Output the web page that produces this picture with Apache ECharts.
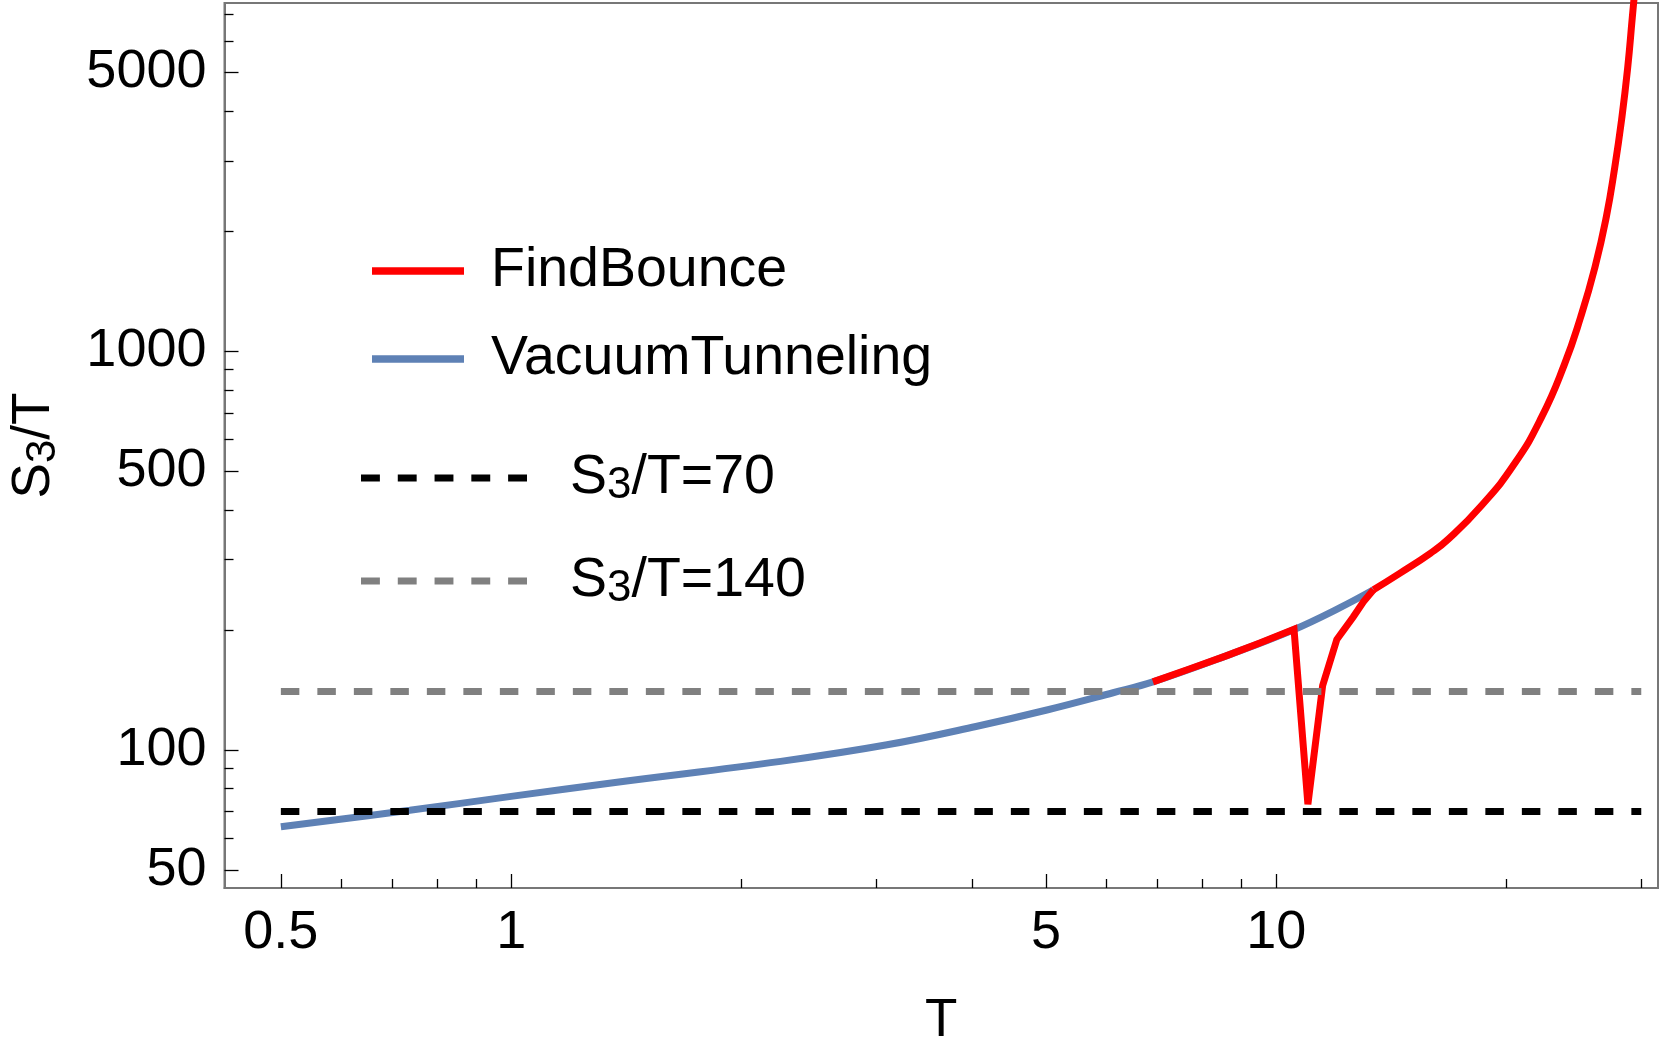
<!DOCTYPE html>
<html>
<head>
<meta charset="utf-8">
<script src="https://cdn.jsdelivr.net/npm/echarts@6/dist/echarts.min.js"></script>
<style>
html,body{margin:0;padding:0;background:#fff;}
#chart{width:1661px;height:1053px;}
</style>
</head>
<body>
<div id="chart"></div>
<script>
// ---- data ----
var blueT = [0.5, 0.737, 1.0, 1.375, 2.25, 3.1, 4.05, 5.03, 6.12, 6.9, 8.6, 10.5, 12.1, 13.4];
var blueS = [64.1, 70.5, 76.4, 82.9, 93.5, 102.9, 114.4, 126, 139, 148, 172, 199.5, 227, 252];

var redT = [6.9, 7.7, 8.6, 9.5, 10.55, 11.0, 11.5, 12.0, 12.6, 13.0, 13.4, 14.5, 15.9, 16.8, 18.55, 20.46, 22.2, 23.8, 25.0, 26.1, 27.0, 27.7, 28.3, 28.8, 29.2, 29.5];
var redS = [148, 159.5, 172, 185, 200.5, 73, 145, 189, 215, 235, 252, 277, 311, 338, 410, 520, 680, 925, 1218, 1625, 2167, 2891, 3857, 5145, 6864, 8500];
var redSplit = 10; // index where the smooth upper branch starts

var thresholds = [70, 140];
var thresholdRange = [0.5, 30];

var xMajor = [0.5, 1, 5, 10];
var xMinor = [0.6, 0.7, 0.8, 0.9, 2, 3, 4, 6, 7, 8, 9, 20, 30];
var yMajor = [50, 100, 500, 1000, 5000];
var yMinor = [60, 70, 80, 90, 200, 300, 400, 600, 700, 800, 900, 2000, 3000, 4000, 6000, 7000];

var xRange = [0.422, 31.55];
var yRange = [45.0, 7470];

// ---- build ----
function pairs(xs, ys, a, b) {
  var out = [];
  for (var i = a; i < b; i++) out.push([xs[i], ys[i]]);
  return out;
}
var FONT = "'Liberation Sans', Arial, sans-serif";
var FS = 54;      // tick labels
var FSN = 53;     // axis names
var FSL = 55.5;   // legend
var frame = '#777777';

var chart = echarts.init(document.getElementById('chart'), null, {renderer: 'canvas'});

function baseX(idx) {
  return {
    type: 'log', logBase: 10, min: xRange[0], max: xRange[1], gridIndex: 0, position: 'bottom',
    axisLine: {show: idx === 0, lineStyle: {color: frame, width: 2}},
    splitLine: {show: false}, minorTick: {show: false},
    axisPointer: {show: false}
  };
}
function baseY(idx) {
  return {
    type: 'log', logBase: 10, min: yRange[0], max: yRange[1], gridIndex: 0, position: 'left',
    axisLine: {show: idx === 0, lineStyle: {color: frame, width: 2}},
    splitLine: {show: false}, minorTick: {show: false},
    axisPointer: {show: false}
  };
}

var x0 = baseX(0);
x0.name = 'T';
x0.nameLocation = 'middle';
x0.nameGap = 107;
x0.nameTextStyle = {fontFamily: FONT, fontSize: FSN, color: '#000'};
x0.axisTick = {show: true, inside: true, length: 14, customValues: xMajor, lineStyle: {color: '#000', width: 1.3}};
x0.axisLabel = {show: true, customValues: xMajor, margin: 18, fontFamily: FONT, fontSize: FS, color: '#000',
  formatter: function (v) { return String(+(+v).toPrecision(4)); }};
var x1 = baseX(1);
x1.axisTick = {show: true, inside: true, length: 9, customValues: xMinor, lineStyle: {color: '#000', width: 1.3}};
x1.axisLabel = {show: false};

var y0 = baseY(0);
y0.name = '{n|S}{s|3}{n|/T}';
y0.nameLocation = 'middle';
y0.nameRotate = 90;
y0.nameGap = 160;
y0.nameTextStyle = {
  fontFamily: FONT, color: '#000',
  rich: {
    n: {fontFamily: FONT, fontSize: FSN, lineHeight: 60, verticalAlign: 'middle', color: '#000'},
    s: {fontFamily: FONT, fontSize: 42, lineHeight: 32, verticalAlign: 'bottom', color: '#000'}
  }
};
y0.axisTick = {show: true, inside: true, length: 14, customValues: yMajor, lineStyle: {color: '#000', width: 1.3}};
y0.axisLabel = {show: true, customValues: yMajor, margin: 18, fontFamily: FONT, fontSize: FS, color: '#000',
  formatter: function (v) { return String(Math.round(v)); }};
var y1 = baseY(1);
y1.axisTick = {show: true, inside: true, length: 9, customValues: yMinor, lineStyle: {color: '#000', width: 1.3}};
y1.axisLabel = {show: false};

var curveW = 7;
var dash = [18.5, 18];
var series = [
  {name: 'VacuumTunneling', type: 'line', xAxisIndex: 0, yAxisIndex: 0, showSymbol: false, symbol: 'none',
   smooth: 0.4, data: pairs(blueT, blueS, 0, blueT.length),
   lineStyle: {color: '#5e81b5', width: curveW}, itemStyle: {color: '#5e81b5'}, z: 2},
  {name: 'FindBounce', type: 'line', xAxisIndex: 0, yAxisIndex: 0, showSymbol: false, symbol: 'none',
   smooth: false, data: pairs(redT, redS, 0, redSplit + 1),
   lineStyle: {color: '#ff0000', width: curveW, join: 'miter', miterLimit: 4}, itemStyle: {color: '#ff0000'}, z: 3},
  {name: 'FindBounce', type: 'line', xAxisIndex: 0, yAxisIndex: 0, showSymbol: false, symbol: 'none',
   smooth: 0.5, data: pairs(redT, redS, redSplit, redT.length),
   lineStyle: {color: '#ff0000', width: curveW}, itemStyle: {color: '#ff0000'}, z: 3},
  {name: 'S3/T=70', type: 'line', xAxisIndex: 0, yAxisIndex: 0, showSymbol: false, symbol: 'none',
   data: [[thresholdRange[0], thresholds[0]], [thresholdRange[1], thresholds[0]]],
   lineStyle: {color: '#000000', width: 7, type: dash, cap: 'butt'}, itemStyle: {color: '#000000'}, z: 4},
  {name: 'S3/T=140', type: 'line', xAxisIndex: 0, yAxisIndex: 0, showSymbol: false, symbol: 'none',
   data: [[thresholdRange[0], thresholds[1]], [thresholdRange[1], thresholds[1]]],
   lineStyle: {color: '#808080', width: 7, type: dash, cap: 'butt'}, itemStyle: {color: '#808080'}, z: 4}
];

var dashIcon = 'path://M0,0H19V7H0Z M37,0H56V7H37Z M74,0H93V7H74Z M111,0H130V7H111Z M148,0H167V7H148Z';

var option = {
  animation: false,
  backgroundColor: '#ffffff',
  grid: {left: 224, right: 3, top: 3, bottom: 165, show: true, borderColor: frame, borderWidth: 2, backgroundColor: 'transparent'},
  xAxis: [x0, x1],
  yAxis: [y0, y1],
  legend: [
    {
      data: [{name: 'FindBounce', icon: 'rect'}, {name: 'VacuumTunneling', icon: 'rect'}],
      orient: 'vertical', left: 372, top: 241, padding: 0,
      itemWidth: 92, itemHeight: 7.5, itemGap: 28, selectedMode: false,
      itemStyle: {borderWidth: 0},
      textStyle: {fontFamily: FONT, fontSize: FSL, color: '#000', lineHeight: 60, padding: [0, 0, 0, 22]}
    },
    {
      data: [{name: 'S3/T=70', icon: dashIcon}, {name: 'S3/T=140', icon: dashIcon}],
      orient: 'vertical', left: 361, top: 448, padding: 0,
      itemWidth: 166, itemHeight: 7, itemGap: 43, selectedMode: false,
      itemStyle: {borderWidth: 0},
      formatter: function (name) {
        return '{n|S}{s|3}{n|' + name.slice(2) + '}';
      },
      textStyle: {
        fontFamily: FONT, fontSize: FSL, color: '#000', lineHeight: 60, padding: [0, 0, 0, 38],
        rich: {
          n: {fontFamily: FONT, fontSize: FSL, lineHeight: 60, verticalAlign: 'middle', color: '#000'},
          s: {fontFamily: FONT, fontSize: 44, lineHeight: 32, verticalAlign: 'bottom', color: '#000'}
        }
      }
    }
  ],
  series: series
};
chart.setOption(option);
</script>
</body>
</html>
